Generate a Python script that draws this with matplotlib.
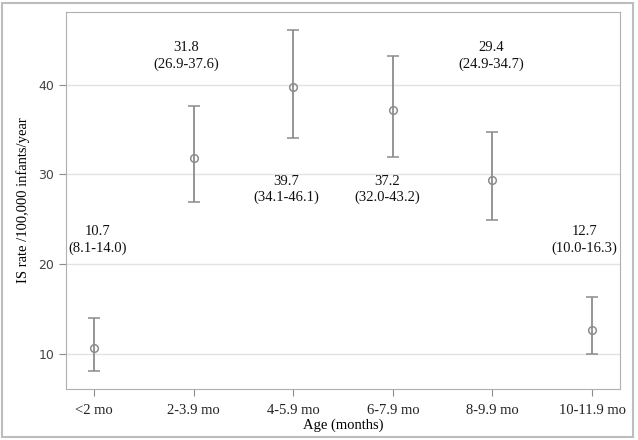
import matplotlib
matplotlib.use("Agg")
import matplotlib.pyplot as plt
from matplotlib.patches import Rectangle

# age groups and rates (per 100,000 infants/year) with 95% CI
ages = ["<2 mo", "2-3.9 mo", "4-5.9 mo", "6-7.9 mo", "8-9.9 mo", "10-11.9 mo"]
rate = [10.7, 31.8, 39.7, 37.2, 29.4, 12.7]
lower = [8.1, 26.9, 34.1, 32.0, 24.9, 10.0]
upper = [14.0, 37.6, 46.1, 43.2, 34.7, 16.3]

# where the annotation text sits (data coords: x offset, y of first line)
label_dx = [0.04, -0.07, -0.07, -0.06, -0.01, -0.08]
label_y = [22.7, 43.2, 28.3, 28.3, 43.2, 22.7]

serif = ["Liberation Serif", "DejaVu Serif"]
gray = "#8c8c8c"

fig = plt.figure(figsize=(6.38, 4.40), dpi=100)
ax = fig.add_axes([66 / 638, 1 - 389 / 440, (620 - 66) / 638, (389 - 12) / 440])

x = list(range(len(ages)))
yerr = [[r - l for r, l in zip(rate, lower)], [u - r for r, u in zip(rate, upper)]]
ax.errorbar(x, rate, yerr=yerr, fmt="o", mfc="none", mec=gray, ms=5.5, mew=1.1,
            ecolor=gray, elinewidth=1.3, capsize=4, capthick=1.3, zorder=3)

for i in x:
    txt = f"{rate[i]:.1f}\n({lower[i]:.1f}-{upper[i]:.1f})"
    ax.text(i + label_dx[i], label_y[i], txt, ha="center", va="center",
            family=serif, fontsize=10.5, linespacing=1.25, color="#111111")

ax.set_xlim(-0.28, 5.28)
ax.set_ylim(6.1, 48.1)
ax.set_yticks([10, 20, 30, 40])
ax.set_xticks(x)
ax.set_xticklabels(ages, family=serif, fontsize=10.5, color="#222222")
ax.tick_params(axis="y", labelsize=9, labelcolor="#444444", color=gray, length=5)
ax.tick_params(axis="x", color=gray, length=5, pad=6)
ax.yaxis.grid(True, color="#e3e3e3", linewidth=1)
ax.set_axisbelow(True)
for s in ax.spines.values():
    s.set_color("#b0b0b0")

ax.set_ylabel("IS rate /100,000 infants/year", family=serif, fontsize=10.5, labelpad=6)
ax.set_xlabel("Age (months)", family=serif, fontsize=10.5, labelpad=1)

# outer frame around the whole graphic
fig.patches.append(Rectangle((2 / 638, 3 / 440), 631 / 638, 434 / 440,
                             transform=fig.transFigure, fill=False,
                             edgecolor="#bdbdbd", linewidth=1.5))

fig.savefig("out.png", dpi=100)
